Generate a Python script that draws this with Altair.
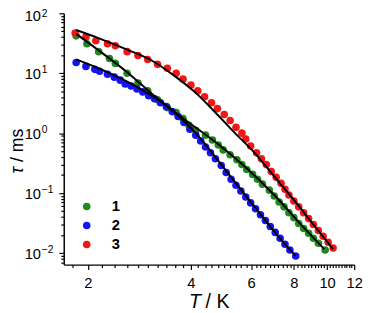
import altair as alt
import pandas as pd

# ---------------- data ----------------
series_names = ["1", "2", "3"]
series_colors = ["#1d8a1d", "#1414f2", "#f21616"]

# series 1 (green)
T1 = [1.848, 1.987, 2.150, 2.312, 2.406, 2.604, 2.801, 2.991, 3.196, 3.413,
      3.622, 3.793, 3.946, 4.133, 4.414, 4.624, 4.810, 4.972, 5.207, 5.453,
      5.636, 5.824, 6.059, 6.262, 6.473, 6.779, 7.007, 7.242, 7.484, 7.734,
      7.995, 8.26, 8.54, 8.83, 9.12, 9.43, 9.87]
tau1 = [42.0, 31.0, 22.9, 17.6, 14.6, 10.0, 6.85, 5.07, 3.61, 2.67,
        2.21, 1.76, 1.35, 1.12, 0.927, 0.767, 0.635, 0.526, 0.436, 0.361,
        0.299, 0.247, 0.205, 0.170, 0.141, 0.112, 0.0893, 0.0711, 0.0589, 0.0470,
        0.0389, 0.0310, 0.0257, 0.0213, 0.0176, 0.0146, 0.0112]

# series 2 (blue)
T2 = [1.848, 1.974, 2.095, 2.164, 2.282, 2.390, 2.487, 2.570, 2.674, 2.782,
      2.894, 3.011, 3.132, 3.259, 3.391, 3.527, 3.670, 3.818, 3.972, 4.133,
      4.272, 4.414, 4.563, 4.716, 4.906, 5.071, 5.242, 5.417, 5.598, 5.786,
      5.980, 6.180, 6.387, 6.602, 6.823, 7.053, 7.290, 7.533, 7.785, 8.098]
tau2 = [15.1, 13.0, 11.6, 10.8, 9.64, 8.60, 7.67, 6.60, 6.12, 5.47,
        4.88, 4.20, 3.75, 3.22, 2.77, 2.29, 1.90, 1.51, 1.16, 0.927,
        0.739, 0.589, 0.470, 0.375, 0.288, 0.221, 0.170, 0.135, 0.108, 0.0859,
        0.0686, 0.0547, 0.0436, 0.0348, 0.0277, 0.0221, 0.0176, 0.0140, 0.0112, 0.00893]

# series 3 (red)
T3 = [1.836, 1.974, 2.109, 2.282, 2.406, 2.604, 2.801, 2.991, 3.196, 3.413,
      3.622, 3.793, 4.000, 4.188, 4.386, 4.594, 4.780, 5.005, 5.207, 5.417,
      5.636, 5.786, 5.980, 6.221, 6.430, 6.645, 6.869, 7.099, 7.337, 7.533,
      7.734, 7.995, 8.26, 8.54, 8.83, 9.12, 9.43, 9.74, 10.07, 10.41]
tau3 = [47.0, 40.4, 34.8, 31.0, 28.8, 22.9, 19.7, 17.0, 14.05, 12.1,
        10.0, 7.97, 6.36, 5.07, 4.04, 3.22, 2.57, 2.05, 1.63, 1.25,
        1.00, 0.797, 0.612, 0.470, 0.375, 0.299, 0.229, 0.183, 0.146, 0.116,
        0.0928, 0.0739, 0.0589, 0.0470, 0.0375, 0.0299, 0.0238, 0.0190, 0.0151, 0.0121]

# fitted curves (black)
fitT1 = [1.848, 2.137, 2.604, 3.175, 3.869, 4.716, 5.748, 7.007, 8.54, 9.81]
fitTau1 = [45.3, 24.7, 10.4, 3.89, 1.63, 0.712, 0.277, 0.0928, 0.0267, 0.0116]
fitT2 = [1.848, 2.282, 2.782, 3.391, 4.133, 5.038, 6.139, 7.484, 8.098]
fitTau2 = [17.0, 10.4, 5.89, 2.88, 1.00, 0.247, 0.0589, 0.0146, 0.00893]
fitT3 = [1.848, 2.137, 2.604, 3.071, 3.622, 4.133, 4.716, 5.381, 6.139, 7.007,
         7.995, 9.12, 10.41]
fitTau3 = [52.6, 38.9, 24.7, 16.3, 8.60, 4.70, 2.21, 1.00, 0.470, 0.190,
           0.0767, 0.0299, 0.0116]

# axes
x_domain = [1.7, 12]
y_domain = [0.0064, 100]
x_tick_values = [round(1.8 + 0.2 * i, 1) for i in range(52)]
y_tick_values = [round(m * 10.0 ** e, 6) for e in range(-3, 2) for m in range(1, 10)
                 if y_domain[0] <= m * 10.0 ** e <= y_domain[1]] + [100]
y_major_values = [100, 10, 1, 0.1, 0.01]
y_major_base = ["10", "10", "10", "10", "10"]
y_major_exp = ["2", "1", "0", "\u22121", "\u22122"]

# ---------------- tables ----------------
pts = pd.concat([
    pd.DataFrame({"T": T1, "tau": tau1, "series": "1"}),
    pd.DataFrame({"T": T2, "tau": tau2, "series": "2"}),
    pd.DataFrame({"T": T3, "tau": tau3, "series": "3"}),
])
fits = pd.concat([
    pd.DataFrame({"T": fitT1, "tau": fitTau1, "series": "1"}),
    pd.DataFrame({"T": fitT2, "tau": fitTau2, "series": "2"}),
    pd.DataFrame({"T": fitT3, "tau": fitTau3, "series": "3"}),
])
ylab = pd.DataFrame({"tau": y_major_values, "base": y_major_base, "exp": y_major_exp})

FONT = "Liberation Sans"

x_major_test = "abs(datum.value - round(datum.value / 2) * 2) < 0.01"
y_major_test = "abs(log(datum.value) / LN10 - round(log(datum.value) / LN10)) < 0.01"

x_enc = alt.X(
    "T:Q",
    scale=alt.Scale(type="log", domain=x_domain, nice=False),
    axis=alt.Axis(
        values=x_tick_values,
        labelExpr=x_major_test + " ? '' + round(datum.value) : ''",
        tickSize={"condition": {"test": x_major_test, "value": 5}, "value": 3},
        labelOverlap=False, labelFlush=False, labelBound=False,
        labelPadding=6, labelFontSize=15, title=None,
    ),
)
y_enc = alt.Y(
    "tau:Q",
    scale=alt.Scale(type="log", domain=y_domain, nice=False),
    axis=alt.Axis(
        values=y_tick_values,
        labels=False,
        tickSize={"condition": {"test": y_major_test, "value": 5}, "value": 3},
        title=None,
    ),
)

points = alt.Chart(pts).mark_circle(size=60, opacity=1).encode(
    x=x_enc,
    y=y_enc,
    color=alt.Color(
        "series:N",
        scale=alt.Scale(domain=series_names, range=series_colors),
        legend=alt.Legend(
            orient="none", legendX=16, legendY=190, title=None,
            labelFont=FONT, labelFontSize=15, labelFontWeight="bold",
            labelColor="black", symbolType="circle", symbolSize=60,
            symbolStrokeWidth=0, symbolOpacity=1, labelOffset=18,
            rowPadding=3.5, padding=0,
        ),
    ),
)

lines = alt.Chart(fits).mark_line(color="black", strokeWidth=2, interpolate="monotone").encode(
    x=x_enc, y=y_enc, detail="series:N"
)


# y tick labels as 10 with a raised exponent
def ylabels(field, x, size, dy, top):
    flt = "datum.tau >= 99" if top else "datum.tau < 99"
    return alt.Chart(ylab).transform_filter(flt).mark_text(
        font=FONT, fontSize=size, align="left", baseline="middle", dy=dy, color="black",
    ).encode(y=y_enc, x=alt.value(x), text=f"{field}:N")


y_labels = alt.layer(
    ylabels("base", -40, 15, 1, False),
    ylabels("exp", -22.5, 10.5, -3, False),
    ylabels("base", -40, 15, 3, True),
    ylabels("exp", -22.5, 10.5, 0.5, True),
)


def label(text, x, y, style="normal", angle=0, align="left", size=18):
    return alt.Chart(pd.DataFrame({"t": [text]})).mark_text(
        font=FONT, fontSize=size, fontStyle=style, angle=angle,
        align=align, baseline="alphabetic", color="black",
    ).encode(text="t:N", x=alt.value(x), y=alt.value(y))


x_title = label("T", 128, 301, style="italic", size=20) + label("/ K", 145, 301, size=20)
y_title = (label("\u03c4", -42, 157, style="italic", angle=270, align="right", size=18)
           + label("/ ms", -42, 152, angle=270, align="left", size=18))

chart = alt.layer(points, lines, y_labels, x_title, y_title).properties(
    width=297, height=257,
    autosize=alt.AutoSizeParams(type="none"),
    padding={"left": 57, "top": 2, "right": 9, "bottom": 44},
    background="white",
).configure_view(stroke=None).configure_axis(
    grid=False, domainColor="black", domainWidth=1.5, tickColor="black",
    tickWidth=1.2, labelColor="black", labelFont=FONT, labelFontSize=14,
)

chart.save("out.html", embed_options={"renderer": "svg", "actions": False})
